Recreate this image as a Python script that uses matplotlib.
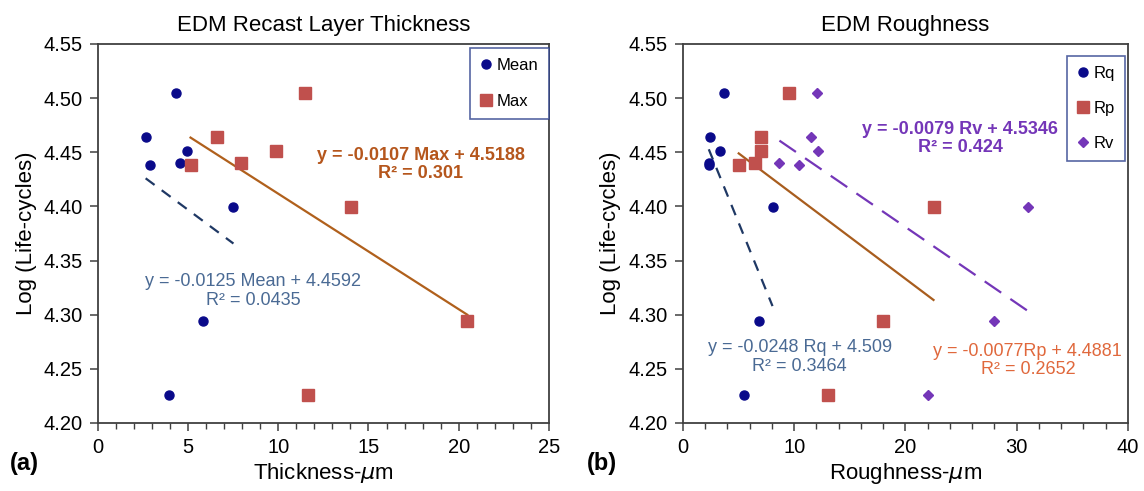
import numpy as np
import matplotlib
matplotlib.use("Agg")
import matplotlib.pyplot as plt
from matplotlib.ticker import MultipleLocator

plt.rcParams['font.family'] = ['Liberation Sans', 'DejaVu Sans']

# life-cycle values (log) shared by all series
life = [4.464, 4.438, 4.505, 4.451, 4.440, 4.399, 4.294, 4.226]

# (a) recast layer thickness, um
thick_mean = [2.64, 2.87, 4.33, 4.92, 4.54, 7.51, 5.80, 3.91]
thick_max = [6.61, 5.13, 11.49, 9.87, 7.93, 14.02, 20.48, 11.62]

# (b) roughness, um
rough_rq = [2.45, 2.35, 3.70, 3.31, 2.32, 8.05, 6.87, 5.53]
rough_rp = [7.00, 5.01, 9.53, 7.00, 6.48, 22.52, 17.94, 13.06]
rough_rv = [11.52, 10.47, 12.08, 12.11, 8.67, 31.03, 27.99, 22.06]

NAVY = '#0a0a8a'
RED = '#c0504d'
PURPLE = '#7436b8'


def trend(ax, x, y, **kw):
    # least squares line over the data range, like the spreadsheet trendline
    k, b = np.polyfit(x, y, 1)
    xs = np.array([min(x), max(x)])
    ax.plot(xs, k * xs + b, **kw)


def style_axes(ax, xmax, xmajor, xminor):
    ax.set_xlim(0, xmax)
    ax.set_ylim(4.20, 4.55)
    ax.xaxis.set_major_locator(MultipleLocator(xmajor))
    ax.xaxis.set_minor_locator(MultipleLocator(xminor))
    ax.yaxis.set_major_locator(MultipleLocator(0.05))
    ax.yaxis.set_major_formatter(plt.FormatStrFormatter('%.2f'))
    ax.tick_params(axis='both', which='major', direction='out', length=6,
                   width=1.1, labelsize=14.5, color='#404040', pad=5)
    ax.tick_params(axis='x', which='minor', direction='out', length=4,
                   width=1.0, color='#404040')
    for s in ax.spines.values():
        s.set_color('#404040')
        s.set_linewidth(1.3)
    ax.set_ylabel('Log (Life-cycles)', fontsize=16, labelpad=5)


fig = plt.figure(figsize=(11.44, 4.91), dpi=100)
ax1 = fig.add_axes([0.0857, 0.1385, 0.394, 0.772])
ax2 = fig.add_axes([0.597, 0.1385, 0.389, 0.772])

# ---- (a) ----
ax1.plot(thick_mean, life, 'o', color=NAVY, ms=6.5, label='Mean', zorder=3)
ax1.plot(thick_max, life, 's', color=RED, ms=8, label='Max', zorder=3)
trend(ax1, thick_mean, life, color='#1f3864', lw=1.6, dashes=(5, 4))
trend(ax1, thick_max, life, color='#b0601c', lw=1.6)
ax1.text(8.6, 4.322, 'y = -0.0125 Mean + 4.4592\nR² = 0.0435', color='#4a6a94',
         fontsize=13, ha='center', va='center', linespacing=1.1)
ax1.text(17.9, 4.439, 'y = -0.0107 Max + 4.5188\nR² = 0.301', color='#b5561c',
         fontsize=13, fontweight='bold', ha='center', va='center', linespacing=1.1)
style_axes(ax1, 25, 5, 1)
ax1.set_title('EDM Recast Layer Thickness', fontsize=16, pad=9)
ax1.set_xlabel('Thickness-$\\mu$m', fontsize=16, labelpad=3)
leg1 = ax1.legend(loc='upper right', bbox_to_anchor=(1.0, 0.99), borderaxespad=0,
                  fontsize=12, handlelength=0.7, handletextpad=0.3,
                  labelspacing=1.25, borderpad=0.6, fancybox=False)
leg1.get_frame().set_edgecolor('#2b3f8c')
leg1.get_frame().set_linewidth(1.2)

# ---- (b) ----
ax2.plot(rough_rq, life, 'o', color=NAVY, ms=6.5, label='Rq', zorder=3)
ax2.plot(rough_rp, life, 's', color=RED, ms=8, label='Rp', zorder=3)
ax2.plot(rough_rv, life, 'D', color=PURPLE, ms=5.5, label='Rv', zorder=3)
trend(ax2, rough_rq, life, color='#1f3864', lw=1.6, dashes=(5, 4))
trend(ax2, rough_rp, life, color='#a85d1e', lw=1.6)
trend(ax2, rough_rv, life, color=PURPLE, lw=1.6, dashes=(9, 5))
ax2.text(10.5, 4.261, 'y = -0.0248 Rq + 4.509\nR² = 0.3464', color='#4a6a94',
         fontsize=13, ha='center', va='center', linespacing=1.1)
ax2.text(31.0, 4.258, 'y = -0.0077Rp + 4.4881\nR² = 0.2652', color='#e0683c',
         fontsize=13, ha='center', va='center', linespacing=1.1)
ax2.text(24.9, 4.463, 'y = -0.0079 Rv + 4.5346\nR² = 0.424', color=PURPLE,
         fontsize=13, fontweight='bold', ha='center', va='center', linespacing=1.1)
style_axes(ax2, 40, 10, 2)
ax2.set_title('EDM Roughness', fontsize=16, pad=9)
ax2.set_xlabel('Roughness-$\\mu$m', fontsize=16, labelpad=3)
leg2 = ax2.legend(loc='upper right', bbox_to_anchor=(0.993, 0.968), borderaxespad=0,
                  fontsize=12, handlelength=0.7, handletextpad=0.3,
                  labelspacing=1.2, borderpad=0.6, fancybox=False)
leg2.get_frame().set_edgecolor('#2b3f8c')
leg2.get_frame().set_linewidth(1.2)

fig.text(0.009, 0.055, '(a)', fontsize=17, fontweight='bold', va='center')
fig.text(0.513, 0.055, '(b)', fontsize=17, fontweight='bold', va='center')

fig.savefig('out.png', dpi=100)
